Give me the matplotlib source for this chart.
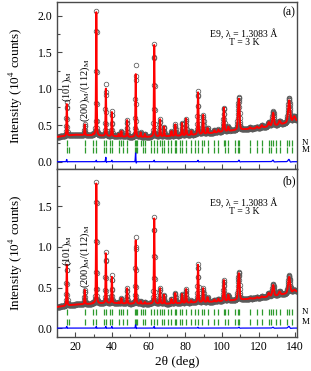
import numpy as np
import matplotlib
matplotlib.use("Agg")
import matplotlib.pyplot as plt
from matplotlib.transforms import blended_transform_factory

plt.rcParams['font.family'] = ['Liberation Serif', 'DejaVu Serif']
plt.rcParams['mathtext.fontset'] = 'stix'

# ---------------- data ----------------
peak_pos = [15.4, 25.2, 29.8, 31.5, 36.7, 40.0, 43.7, 45.2, 48.3, 53.0, 55.7, 58.0,
            63.1, 66.3, 68.5, 72.5, 74.6, 78.3, 80.5, 83.3, 87.0, 89.8, 92.2, 95.9,
            98.1, 101.1, 103.5, 108.9, 109.4, 115.4, 119.1, 121.8, 125.6, 128.0,
            131.5, 136.7, 139.5]
peak_top_a = [0.79, 0.51, 0.38, 2.05, 1.00, 0.68, 0.38, 0.42, 0.57, 1.20, 0.40, 0.38,
              1.60, 0.58, 0.48, 0.42, 0.51, 0.53, 0.59, 0.42, 0.95, 0.64, 0.46, 0.43,
              0.44, 0.74, 0.48, 0.66, 0.79, 0.47, 0.48, 0.50, 0.54, 0.67, 0.56, 0.84, 0.62]
peak_top_b = [0.78, 0.47, 0.31, 1.78, 0.92, 0.63, 0.32, 0.37, 0.49, 1.08, 0.33, 0.32,
              1.35, 0.49, 0.41, 0.36, 0.43, 0.42, 0.48, 0.34, 0.78, 0.49, 0.38, 0.35,
              0.36, 0.59, 0.41, 0.52, 0.62, 0.37, 0.38, 0.39, 0.43, 0.53, 0.45, 0.63, 0.47]

bkg_x = [10, 20, 30, 40, 50, 60, 70, 80, 90, 100, 110, 120, 130, 141]
bkg_a = [0.34, 0.37, 0.36, 0.35, 0.34, 0.34, 0.35, 0.36, 0.38, 0.41, 0.44, 0.46, 0.50, 0.56]
bkg_b = [0.26, 0.29, 0.30, 0.31, 0.30, 0.30, 0.30, 0.31, 0.32, 0.33, 0.35, 0.37, 0.40, 0.45]

# observed minus calculated at selected reflections
diff_pos = [15.4, 31.5, 36.7, 40.0, 53.0, 63.1, 87.0, 109.4, 128.0, 136.7]
diff_a = [0.03, 0.02, 0.06, 0.02, 0.12, 0.02, 0.02, 0.02, 0.02, 0.03]
diff_b = [0.02, 0.02, 0.02, 0.02, 0.04, 0.02, 0.01, 0.01, 0.01, 0.02]

bragg_N = [15.4, 25.2, 29.8, 31.3, 35.9, 36.7, 39.0, 40.0, 43.7, 45.2, 46.1, 48.3,
           52.4, 53.0, 53.9, 55.7, 56.7, 58.0, 61.3, 63.1, 64.6, 66.3, 67.2, 68.5,
           70.6, 72.5, 74.6, 75.2, 77.0, 78.3, 80.2, 83.3, 85.2, 87.0, 89.4, 90.2,
           92.2, 95.9, 98.1, 101.1, 101.5, 103.3, 107.4, 108.9, 109.3, 115.4, 119.1,
           121.9, 125.6, 127.0, 128.0, 129.3, 131.5, 135.8, 136.7, 138.2]
bragg_M = [15.4, 16.7, 25.2, 29.8, 31.3, 35.9, 36.7, 39.0, 40.0, 43.7, 46.1, 48.3,
           52.4, 53.0, 53.9, 56.7, 58.0, 61.3, 63.1, 64.6, 67.2, 68.5, 70.6, 72.5,
           74.6, 75.2, 77.0, 78.3, 80.2, 83.3, 85.2, 87.0, 89.4, 92.2, 95.9, 98.1,
           101.5, 103.3, 107.4, 108.9, 109.3, 115.4, 119.1, 121.9, 125.6, 127.0,
           129.3, 131.5, 135.8, 138.2]

# ---------------- profile construction ----------------
tt = np.arange(10.0, 141.01, 0.1)

def fwhm(p):
    t = np.tan(np.radians(np.asarray(p) / 2.0))
    return np.sqrt(0.30 * t**2 - 0.20 * t + 0.20)

def shape(x, p, w, eta=0.35):
    g = np.exp(-4 * np.log(2) * ((x - p) / w) ** 2)
    l = 1.0 / (1 + 4 * ((x - p) / w) ** 2)
    return eta * l + (1 - eta) * g

def profile(tops, bkx, bky, dvals):
    bk = np.interp(tt, bkx, bky)
    calc = bk.copy()
    for p, h in zip(peak_pos, tops):
        net = max(h - np.interp(p, bkx, bky), 0.004)
        calc += net * shape(tt, p, fwhm(p))
    diff = np.zeros_like(tt)
    for p, d in zip(diff_pos, dvals):
        w = fwhm(p)
        diff += d * np.exp(-4 * np.log(2) * ((tt - p) / (0.7 * w)) ** 2)
        diff -= 0.6 * d * ((tt - p) / w) * np.exp(-4 * np.log(2) * ((tt - p) / w) ** 2) * 2
    return calc, calc + diff, diff

fig = plt.figure(figsize=(3.11, 3.71), dpi=100)
ax1 = fig.add_axes([0.183, 0.5445, 0.772, 0.450])
ax2 = fig.add_axes([0.183, 0.0916, 0.772, 0.4529])

panels = [
    (ax1, peak_top_a, bkg_a, diff_a, (-0.1, 2.19), 0.25, 0.155, '(a)', 0.81, 0.755, 0.94, 0.55),
    (ax2, peak_top_b, bkg_b, diff_b, (-0.11, 1.96), 0.20, 0.08, '(b)', 0.80, 0.745, 0.925, 0.50),
]

grey = '#4a4a4a'
for ax, tops, bky, dv, ylim, yN, yM, lab, yE, yT, ylab, yann in panels:
    calc, obs, diff = profile(tops, bkg_x, bky, dv)
    ax.plot(tt, obs, 'o', ms=3.3, mfc='none', mec='#5a5a5a', mew=0.55, zorder=2)
    ax.plot(tt, calc, '-', color='#ff0000', lw=1.4, zorder=3)
    ax.plot(tt, diff, '-', color='#0000ff', lw=0.9, zorder=3)
    ax.plot(bragg_N, [yN] * len(bragg_N), '|', color='#2e9a2e', ms=5, mew=0.9, zorder=2)
    ax.plot(bragg_M, [yM] * len(bragg_M), '|', color='#2e9a2e', ms=5, mew=0.9, zorder=2)
    ax.set_xlim(10, 141)
    ax.set_ylim(*ylim)
    ax.set_xticks([20, 40, 60, 80, 100, 120, 140])
    ax.set_xticks(np.arange(10, 141, 10), minor=True)
    ax.set_yticks([0.0, 0.5, 1.0, 1.5, 2.0] if lab == '(a)' else [0.0, 0.5, 1.0, 1.5])
    ax.set_yticks(np.arange(0, ylim[1], 0.25), minor=True)
    ax.tick_params(direction='in', which='both', labelsize=8.5, color=grey, pad=3)
    ax.tick_params(which='major', length=3.5, width=0.8)
    ax.tick_params(which='minor', length=2.5, width=0.8)
    for s in ax.spines.values():
        s.set_color(grey)
        s.set_linewidth(1.0)
    ax.set_ylabel('Intensity (10$^4$ counts)', fontsize=9.5, labelpad=3)
    ax.text(0.967, ylab, lab, transform=ax.transAxes, ha='center', va='center', fontsize=8.5)
    ax.text(0.78, yE, 'E9, λ = 1.3083 Å', transform=ax.transAxes, ha='center', va='center', fontsize=7)
    ax.text(0.78, yT, 'T = 3 K', transform=ax.transAxes, ha='center', va='center', fontsize=7)
    tr = blended_transform_factory(ax.transAxes, ax.transData)
    ax.text(1.02, yN, 'N', transform=tr, ha='left', va='center', fontsize=6.5)
    ax.text(1.02, yM, 'M', transform=tr, ha='left', va='center', fontsize=6.5)
    ax.text(15.4, yann + 0.27, r'(101)$_{\rm M}$', rotation=90, ha='center', va='bottom', fontsize=7.5)
    ax.text(25.6, yann, r'(200)$_{\rm M}$/(112)$_{\rm M}$', rotation=90, ha='center', va='bottom', fontsize=7.5)

ax1.tick_params(labelbottom=False)
ax2.set_xlabel('2θ (deg)', fontsize=9.5, labelpad=2)
ax1.yaxis.set_label_coords(-0.135, 0.5)
ax2.yaxis.set_label_coords(-0.135, 0.5)

fig.savefig('out.png', dpi=100)
